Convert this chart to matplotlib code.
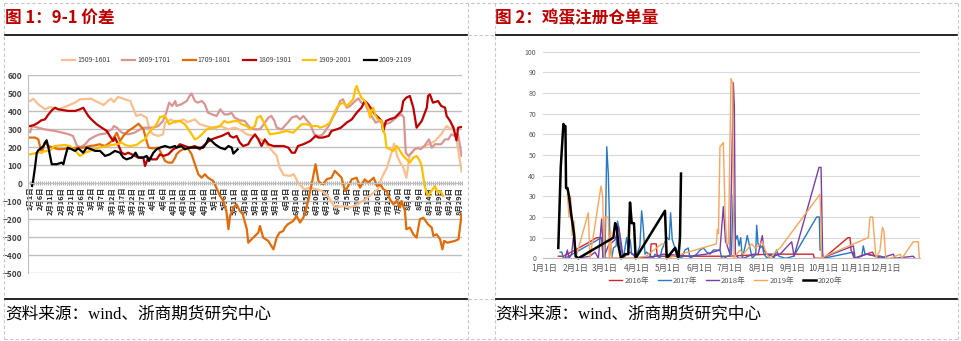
import matplotlib
matplotlib.use('Agg')
import matplotlib.pyplot as plt
from matplotlib.lines import Line2D

plt.rcParams['font.family'] = ['Noto Sans CJK SC', 'DejaVu Sans']

# ---------------- DATA: Figure 1 (9-1 spread), day index from Feb 1 ----------------
x_tick_labels_1 = ['2月1日', '2月6日', '2月11日', '2月16日', '2月21日', '2月26日', '3月2日', '3月7日',
                   '3月12日', '3月17日', '3月22日', '3月27日', '4月1日', '4月6日', '4月11日', '4月16日',
                   '4月21日', '4月26日', '5月1日', '5月6日', '5月11日', '5月16日', '5月21日', '5月26日',
                   '5月31日', '6月5日', '6月10日', '6月15日', '6月20日', '6月25日', '6月30日', '7月5日',
                   '7月10日', '7月15日', '7月20日', '7月25日', '7月30日', '8月4日', '8月9日', '8月14日',
                   '8月19日', '8月24日', '8月29日']
series_names_1 = ['1509-1601', '1609-1701', '1709-1801', '1809-1901', '1909-2001', '2009-2109']

s1509 = [(0,457),(1.6,470),(4,439),(7.3,411),(9.8,424),(13.8,411),(17,424),(22,448),(24.4,467),(30,470),
         (32,457),(36,435),(38,457),(39.6,470),(41,452),(43,480),(46.4,467),(49,457),(52,374),(54,383),
         (57,365),(58.6,290),(60.3,272),(62.7,263),(65,272),(66,337),(69,355),(71,337),(75,355),(77,340),
         (80.6,355),(83,328),(86,318),(89,309),(93,318),(97,300),(100,309),(103.4,294),(105.9,272),(110,263),
         (114,235),(117,198),(120.6,152),(122,87),(124,46),(127,41),(129,50),(131,4),(134,-33),(137,-24),
         (140,-33),(142,-40),(145,-60),(149,-135),(154,-126),(156.5,-135),(160,-117),(164,-89),(167,-61),
         (170,-33),(172,31),(174.5,87),(177,180),(178,220),(179.5,152),(181,115),(182.5,87),(184,31),
         (185.7,161),(188,189),(191,198),(195,217),(198,235),(201,272),(203.7,318),(205.5,300),(207,318),
         (208.5,244),(211,65)]
s1609 = [(0,285),(1,318),(4,309),(7,300),(12,291),(16,281),(19,272),(21,263),(23,207),(25,202),(27,217),
         (29,244),(32,263),(34,272),(36.7,276),(38.5,291),(40,300),(41,318),(42.5,309),(44,291),(45,281),
         (48,272),(51,281),(54,300),(56,309),(60,309),(62.7,318),(65,346),(66.6,392),(68,448),(69.5,430),
         (71,457),(71.6,430),(74,439),(76.6,457),(78,485),(79,498),(80.6,457),(82,448),(84,457),(85.5,439),
         (87,392),(89,383),(91.2,374),(93,411),(95,383),(97,383),(98.5,392),(100,365),(102.6,350),(105,346),
         (107.5,309),(110,300),(112.4,300),(114.8,337),(116.5,365),(118,374),(119.5,346),(120.6,309),
         (123,300),(126,337),(128,365),(130.3,374),(132,355),(133.6,374),(137,328),(139,272),(141,263),
         (143,270),(146,318),(148,365),(149.8,402),(151.6,457),(153,467),(154.8,420),(156.5,430),(159,457),
         (160.5,472),(162,448),(164,439),(165.3,402),(167,374),(169,337),(170.6,346),(173.5,328),(176,337),
         (178,355),(180,374),(181.6,383),(182.8,365),(183.7,170),(185,152),(186.7,170),(188,189),(189.6,198),
         (191,189),(192.8,207),(195,244),(196.4,198),(198,217),(201,217),(202.9,244),(204.5,244),(206,272),
         (207.8,263),(209.3,272),(211,152)]
s1709 = [(0,254),(2.4,254),(4,245),(5.7,170),(7.3,226),(9,207),(11.4,198),(14,189),(18.7,193),(23.5,198),
         (26,198),(29,207),(31.8,211),(34,217),(36.7,207),(40,235),(42.4,281),(44,235),(45.6,263),(48,291),
         (50.5,309),(53,331),(54,318),(55.4,300),(57,235),(58,198),(60,194),(62.7,198),(64,170),(66,124),
         (67.6,115),(69.5,115),(71,143),(71.6,161),(73.3,180),(74.9,189),(76.6,198),(77.5,189),(79,161),
         (80.6,106),(82.3,50),(83.9,31),(85.5,50),(87,31),(89.6,13),(92.9,-70),(94.5,-98),(96,-154),(97,-255),
         (97.8,-181),(99.4,-135),(101,-117),(102.6,-154),(104,-172),(106,-255),(106.7,-330),(108.3,-311),
         (110,-292),(111.6,-274),(112.4,-237),(114,-302),(116.5,-320),(119,-367),(120.6,-302),(122,-274),
         (123.8,-265),(124.6,-246),(126,-228),(128.7,-209),(130.3,-181),(132,-218),(133.6,-191),(134.5,-163),
         (136,-98),(138,13),(139.6,106),(141,13),(141.7,4),(143.4,-6),(145,22),(147.4,31),(149,69),(150.7,50),
         (152.3,31),(154,-43),(155.6,-15),(157.3,22),(159.7,31),(161.3,-24),(163.7,22),(165.3,4),(168,31),
         (169.6,-15),(171.2,-6),(172.7,-33),(174.3,-43),(176,-89),(177.6,-117),(179.3,-98),(180.9,-135),
         (181.6,-98),(183.3,-154),(184,-255),(185.7,-246),(187.4,-283),(189,-302),(190.6,-200),(192.3,-191),
         (194.6,-228),(196.4,-246),(197.2,-292),(198.8,-283),(200.5,-311),(201.6,-367),(202.5,-320),
         (204,-330),(207.8,-320),(209.5,-311),(211,-172)]
s1809 = [(0,318),(2,324),(4,337),(5.5,350),(7.3,355),(9,383),(10.6,405),(12.2,420),(13.8,411),(18.7,402),
         (22,402),(24.4,411),(26,420),(27.5,392),(28.5,374),(30,355),(32.6,328),(35,309),(37.5,291),(39,263),
         (40.7,235),(41.5,254),(43,217),(44.8,170),(46.4,161),(48,170),(49.7,161),(51.3,152),(53,143),
         (55.4,143),(56.2,96),(57.8,143),(59.5,133),(61.9,133),(63.5,161),(65.2,152),(67.6,161),(70,189),
         (71.6,198),(73.3,217),(75.7,207),(78,198),(80.6,207),(83,189),(84.7,207),(86.4,226),(88.8,244),
         (91.2,254),(93.7,263),(95.3,272),(97,281),(97.8,263),(99.4,254),(101,263),(102.6,226),(104.2,207),
         (106.7,217),(108,244),(110,272),(111.6,244),(113.2,207),(114.8,244),(116.5,217),(119,207),(124,207),
         (126.3,198),(128,170),(129.5,170),(131,207),(133.6,217),(137,235),(139.6,263),(141,254),(143,254),
         (146,263),(147.4,291),(150,300),(152,309),(154.8,337),(157.3,355),(159.7,392),(162,420),(163.7,457),
         (165.3,439),(167,411),(168.6,383),(170.3,365),(171.9,346),(172.7,291),(174,346),(175.7,355),
         (178.4,365),(180,383),(181.6,402),(182.5,457),(184,476),(185.7,485),(187.4,420),(189,309),
         (191.5,346),(194,420),(194.6,485),(195.5,494),(197,448),(199.5,457),(201,430),(202.9,420),
         (203.7,374),(205.4,346),(207,309),(208.5,239),(209.3,309),(211,313)]
s1909 = [(0,161),(4,170),(9.8,183),(12,207),(17,213),(19.5,207),(22,183),(24.4,152),(26.9,170),(29.4,180),
         (33.4,198),(37.5,207),(40,213),(42.4,217),(44.8,226),(46.4,213),(48.9,207),(52.1,213),(54.6,235),
         (56.2,244),(58,281),(60.3,309),(61.9,328),(63.5,368),(66,374),(68,328),(69.7,337),(71,346),
         (73.3,346),(75.7,328),(78,291),(80.6,244),(82.3,254),(84,272),(86.4,300),(88.8,309),(91,309),
         (92.9,318),(95,346),(96.6,337),(100,346),(101.8,346),(103.4,328),(106,318),(107.5,300),(110,318),
         (111,365),(112.7,374),(114,346),(115.6,309),(117.3,272),(122,281),(125.4,291),(128.7,281),
         (130.3,300),(132.8,328),(135.2,328),(138,318),(140.5,318),(141.7,309),(144.2,318),(146.6,337),
         (148.2,374),(150,420),(151.5,439),(153,448),(154.8,430),(156.5,448),(158,467),(159,522),(159.7,541),
         (160.5,513),(162,476),(163.7,457),(165.3,420),(166.2,365),(167,402),(167.8,420),(168.6,383),
         (170,355),(171.9,346),(172.7,291),(173.5,272),(174.3,198),(176,189),(177.6,180),(179.3,207),
         (180.9,180),(182.5,152),(184.2,133),(185.7,115),(187.4,143),(189,152),(190.6,124),(191.5,96),
         (192.3,31),(193,-15),(193.9,-52),(194.6,-70),(196.3,-43),(198,-15),(199.3,-52),(200.5,-43),(202,-70)]
s2009 = [(1,-15),(1.6,22),(2.4,87),(3.3,170),(4,183),(5.7,198),(6.5,207),(7.3,226),(8.1,239),(9,198),
         (10.6,106),(13,106),(15.5,115),(16.3,106),(17.1,143),(18.4,198),(20.4,189),(22,180),(23.6,194),
         (26,170),(27.7,198),(30,189),(31.8,180),(34.2,180),(36.7,152),(39,161),(41.5,180),(44,170),
         (45.6,143),(47.2,133),(49.7,143),(51.6,170),(52.9,143),(55.4,143),(57,152),(58.2,124),(60.3,170),
         (61.9,189),(63.5,198),(66,207),(68.4,198),(70.9,207),(71.6,198),(74,207),(75.7,189),(78,198),
         (83,198),(84.7,198),(86.4,226),(87.2,250),(88.8,235),(90.4,217),(92.9,198),(95.3,189),(97,207),
         (98.6,198),(99.4,165),(101,183),(101.5,189)]

# ---------------- DATA: Figure 2 (egg warehouse receipts), day of year ----------------
month_labels_2 = ['1月1日', '2月1日', '3月1日', '4月1日', '5月1日', '6月1日', '7月1日', '8月1日',
                  '9月1日', '10月1日', '11月1日', '12月1日']
month_start_doy = [0, 31, 60, 91, 121, 152, 182, 213, 244, 274, 305, 335]
series_names_2 = ['2016年', '2017年', '2018年', '2019年', '2020年']

r2016 = [(14,1),(19,1),(30.3,4),(45,8),(51.6,10),(56.5,10),(58,0),(104,0),(105,7),(110,7),(110.8,2),
         (112,1),(130,1),(180,1),(220,2),(264,2),(265,0),(274,0),(298,10),(300,10),(301,4),(304,0),(310,1),
         (322,3),(324,1),(329,1),(335,0)]
r2017 = [(15.7,3),(17.5,3),(19,0),(20.6,0),(56.5,10),(58,0),(59.8,0),(61.5,54),(63,41),(64.8,6),(66.4,0),
         (68,5),(70.7,6),(72,18),(73.8,14),(75,6),(77.8,0),(81,10),(82.8,4),(84.5,9),(86,2),(91,2),(94,6),
         (95.7,23),(97.3,15),(99,2),(100.6,3),(107,0),(108.8,2),(113.7,0),(115.4,4),(120.3,10),(122.7,9),
         (124.1,22),(125.7,9),(127.7,6),(129.3,5),(131.6,2),(134.8,0),(138.2,4),(141.4,5),(143.1,0),
         (146.4,1),(149.7,2),(153,4),(156.2,5),(159.5,3),(162.7,2),(166,4),(172.5,4),(174.2,0),(176.5,0),
         (179.8,1),(183.7,2),(185.6,31),(187.9,9),(189.5,11),(191.2,6),(192.8,10),(194.4,0),(197.7,7),
         (199.3,11),(201,7),(204.2,0),(207.5,2),(208.5,16),(209.8,7),(211.8,5),(214,6),(215.6,2),(218.8,0),
         (222,2),(225.4,0),(227.9,4),(230.2,1),(236.8,0),(244.8,1),(267.3,20),(269.9,20),(270.6,4),
         (272.2,4),(273.9,0),(303.3,3),(304,0),(311.5,1),(313,6),(314.7,2),(316.3,2),(326,1),(330,1),(336,0)]
r2018 = [(20.6,0),(22.9,4),(24.5,0),(27.1,2),(28.7,10),(30.4,7),(32,0),(45,1),(50,3),(53.3,0),(56.5,19),
         (58.2,0),(63,6),(69.7,9),(73,15),(75.2,9),(77.8,0),(81,2),(84.5,3),(90.8,0),(110,1),(117,2),
         (143,1),(159,2),(172.5,4),(175.8,25),(178,8),(179,7),(182.3,2),(183.9,41),(185.6,85),(186.6,73),
         (187.6,2),(190.5,0),(195.4,0),(205.2,2),(210,2),(214,11),(215.6,4),(218.3,2),(224.8,1),(231.4,2),
         (242.8,8),(245.1,1),(269.6,44),(271.6,44),(273.2,0),(277.1,1),(303.3,6),(305,0),(309.9,1),
         (316.3,2),(326.1,1),(329.4,0),(336,1),(342.5,2),(344.1,0),(362,1),(363.7,0)]
r2019 = [(22.9,31),(24.5,20),(26.1,30),(27.5,11),(29.4,18),(31,0),(43.4,22),(45,0),(55.9,35),(57.5,30),
         (59,0),(59.8,20),(63,20),(64,0),(65.3,13),(66.3,0),(68,0),(85,0),(100,1),(115.4,7),(118.6,7),
         (120.3,0),(169,7),(170,14),(171,12),(172.5,54),(175.8,56),(177.5,22),(179.1,7),(180.8,7),(183.3,87),
         (184.9,85),(186.3,0),(188.9,2),(192.2,4),(195.4,2),(198.7,4),(203.6,7),(206.9,5),(210.1,6),(214,8),
         (218.3,2),(221.6,0),(224.8,2),(231.4,5),(270.6,31),(272.2,0),(275.5,1),(317.9,10),(319.6,20),
         (322.2,20),(323.5,12),(325.5,0),(329.4,4),(331.7,15),(333.3,13),(335,0),(339.5,0),(349.3,2),
         (350.9,0),(362,8),(366.9,8),(367.9,0)]
r2020 = [(14,5),(16.4,44),(19,65),(20,64),(21,64),(21.6,34),(23,34),(24.5,30),(27,20),(29.4,12),(31,1),
         (33.7,0),(68,10),(69.7,17),(71.3,15),(73,6),(75.5,0),(79.4,2),(82.6,2),(84.3,27),(86,17),(88.2,17),
         (89.8,0),(118.6,23),(120.3,0),(128.4,5),(131.7,0),(133.3,10),(134.3,41)]

# ---------------- FIGURE ----------------
W, H = 962, 341
fig = plt.figure(figsize=(W / 100, H / 100), dpi=100)


def fx(px):
    return px / W


def fy(py):
    return 1 - py / H


def seg(x0, y0, x1, y1, **kw):
    fig.add_artist(Line2D([fx(x0), fx(x1)], [fy(y0), fy(y1)], transform=fig.transFigure, **kw))


dash = dict(color='#C8C8C8', lw=0.8, linestyle=(0, (3, 2)))
seg(4, 3, 958, 3, **dash)
seg(4, 339, 958, 339, **dash)
for xv in (4, 468, 495, 958):
    seg(xv, 3, xv, 339, **dash)
seg(468, 35, 495, 35, **dash)
seg(468, 299, 495, 299, **dash)

solid = dict(color='black', lw=1.2)
seg(5, 35, 467, 35, **solid)
seg(496, 35, 957, 35, **solid)
seg(5, 299, 467, 299, **solid)
seg(496, 299, 957, 299, **solid)

title_kw = dict(color='#C00000', fontsize=12, fontweight='bold', va='center', ha='left')
fig.text(fx(5), fy(18), '图 1：9-1 价差', **title_kw)
fig.text(fx(495), fy(18), '图 2：鸡蛋注册仓单量', **title_kw)
src_kw = dict(fontsize=12, va='center', ha='left', color='black',
              family=['Liberation Serif', 'Noto Sans CJK SC'])
fig.text(fx(5), fy(315), '资料来源：wind、浙商期货研究中心', **src_kw)
fig.text(fx(495), fy(315), '资料来源：wind、浙商期货研究中心', **src_kw)

# ---------------- Left chart ----------------
ax1 = fig.add_axes([fx(28), fy(273.3), fx(462) - fx(28), fy(75.3) - fy(273.3)])
colors1 = ['#F9BF8F', '#D99594', '#E36C09', '#C00000', '#FFC000', '#000000']
for data, name, c in zip([s1509, s1609, s1709, s1809, s1909, s2009], series_names_1, colors1):
    xs = [p[0] for p in data]
    ys = [p[1] for p in data]
    ax1.plot(xs, ys, color=c, lw=1.6, label=name, solid_joinstyle='round')
ax1.set_ylim(-500, 600)
ax1.set_xlim(-1, 211.2)
ax1.set_yticks(range(-500, 601, 100))
ax1.yaxis.grid(True, color='#BFBFBF', lw=1.0)
ax1.set_axisbelow(True)
for s in ('top', 'right'):
    ax1.spines[s].set_visible(False)
ax1.spines['left'].set_color('#BFBFBF')
ax1.spines['bottom'].set_position(('data', 0))
ax1.spines['bottom'].set_color('#BFBFBF')
ax1.set_xticks([5 * i for i in range(len(x_tick_labels_1))])
ax1.set_xticks(range(0, 212), minor=True)
ax1.set_xticklabels(x_tick_labels_1, rotation=90, fontsize=5.3, fontweight='bold', color='#262626')
ax1.tick_params(axis='x', which='both', direction='inout', length=3, color='#A6A6A6', pad=1)
ax1.tick_params(axis='y', length=0, labelsize=6, labelcolor='#404040', pad=4)
for t in ax1.get_yticklabels():
    t.set_fontweight('bold')
for t in ax1.get_xticklabels():
    t.set_va('top')
fig.legend(*ax1.get_legend_handles_labels(), loc='center', bbox_to_anchor=(fx(237), fy(60)), ncol=6,
           frameon=False, fontsize=5, handlelength=1.9, columnspacing=1.7, handletextpad=0.3,
           labelcolor='#404040')

# ---------------- Right chart ----------------
ax2 = fig.add_axes([fx(543), fy(258.3), fx(920) - fx(543), fy(51.7) - fy(258.3)])
colors2 = ['#D0262B', '#2478C6', '#7A3DAA', '#F9A55A', '#000000']
widths2 = [1.0, 1.0, 1.0, 1.0, 1.8]
for data, name, c, lw in zip([r2016, r2017, r2018, r2019, r2020], series_names_2, colors2, widths2):
    xs = [p[0] for p in data]
    ys = [p[1] for p in data]
    ax2.plot(xs, ys, color=c, lw=lw, label=name, clip_on=False)
ax2.set_ylim(0, 100)
ax2.set_xlim(-1, 368.6)
ax2.set_yticks(range(0, 101, 10))
ax2.yaxis.grid(True, color='#D9D9D9', lw=0.8)
ax2.set_axisbelow(True)
for s in ('top', 'right', 'left'):
    ax2.spines[s].set_visible(False)
ax2.spines['bottom'].set_color('#BFBFBF')
ax2.set_xticks(month_start_doy)
ax2.set_xticklabels(month_labels_2)
ax2.tick_params(axis='x', length=0, labelsize=6, labelcolor='#595959', pad=4)
ax2.tick_params(axis='y', length=0, labelsize=5, labelcolor='#595959', pad=5)
fig.legend(*ax2.get_legend_handles_labels(), loc='center', bbox_to_anchor=(fx(726), fy(281)), ncol=5,
           frameon=False, fontsize=5.5, handlelength=1.7, columnspacing=1.1, handletextpad=0.3,
           labelcolor='#595959')

fig.savefig('out.png', dpi=100)
